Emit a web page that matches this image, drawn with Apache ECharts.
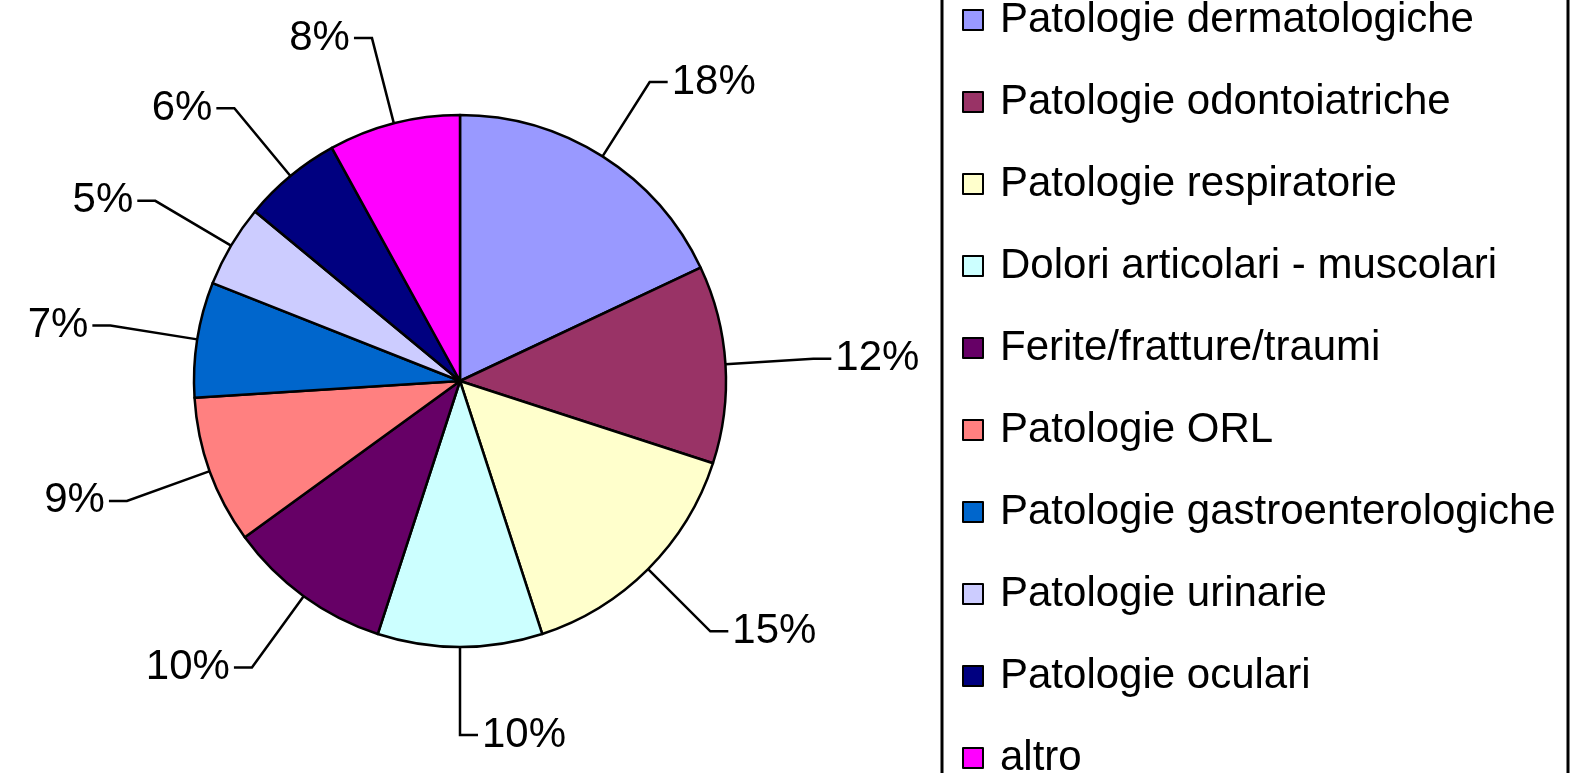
<!DOCTYPE html>
<html>
<head>
<meta charset="utf-8">
<script src="https://cdn.jsdelivr.net/npm/echarts@6/dist/echarts.min.js"></script>
<style>
  html, body { margin: 0; padding: 0; background: #fff; }
  #chart { width: 1573px; height: 773px; }
</style>
</head>
<body>
<div id="chart"></div>
<script>
const categories = [
  'Patologie dermatologiche',
  'Patologie odontoiatriche',
  'Patologie respiratorie',
  'Dolori articolari - muscolari',
  'Ferite/fratture/traumi',
  'Patologie ORL',
  'Patologie gastroenterologiche',
  'Patologie urinarie',
  'Patologie oculari',
  'altro'
];
const values = [18, 12, 15, 10, 10, 9, 7, 5, 6, 8];
const colors = ['#9999FF', '#993366', '#FFFFCC', '#CCFFFF', '#660066', '#FF8080', '#0066CC', '#CCCCFF', '#000080', '#FF00FF'];

const FONT = '"Liberation Sans", Arial, sans-serif';
const chart = echarts.init(document.getElementById('chart'), null, { renderer: 'canvas' });

chart.setOption({
  backgroundColor: '#ffffff',
  animation: false,
  color: colors,
  graphic: [{
    type: 'rect',
    shape: { x: 942, y: -10, width: 626, height: 800 },
    style: { fill: 'none', stroke: '#000', lineWidth: 3 },
    z: 0
  }],
  legend: {
    orient: 'vertical',
    left: 962,
    top: -1,
    height: 900,
    padding: 0,
    itemWidth: 20,
    itemHeight: 20,
    itemGap: 40,
    icon: 'rect',
    itemStyle: { borderColor: '#000', borderWidth: 2 },
    textStyle: { fontFamily: FONT, fontSize: 42, color: '#000', lineHeight: 41, padding: [0, 0, 0, 12] },
    data: categories
  },
  series: [{
    type: 'pie',
    center: [460, 381],
    radius: 266,
    startAngle: 90,
    clockwise: true,
    itemStyle: { borderColor: '#000', borderWidth: 2.5 },
    emphasis: { disabled: true },
    label: {
      show: true,
      formatter: '{c}%',
      fontFamily: FONT,
      fontSize: 42,
      color: '#000',
      distanceToLabelLine: 4
    },
    labelLine: {
      show: true,
      length: 88,
      length2: 18,
      lineStyle: { color: '#000', width: 2.5 }
    },
    data: categories.map((n, i) => ({ name: n, value: values[i] }))
  }]
});
</script>
</body>
</html>
